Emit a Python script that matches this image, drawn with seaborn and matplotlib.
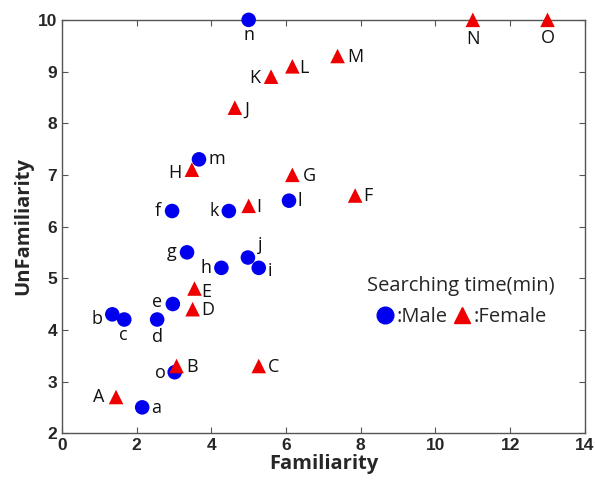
import matplotlib
matplotlib.use('Agg')
import matplotlib.pyplot as plt
import seaborn as sns
import pandas as pd
from matplotlib.lines import Line2D

# male participants (blue circles)
male_labels = ['a', 'b', 'c', 'd', 'e', 'f', 'g', 'h', 'i', 'j', 'k', 'l', 'm', 'n', 'o']
male_fam = [2.15, 1.35, 1.67, 2.55, 2.97, 2.95, 3.35, 4.27, 5.27, 4.98, 4.47, 6.08, 3.67, 5.0, 3.02]
male_unfam = [2.5, 4.3, 4.2, 4.2, 4.5, 6.3, 5.5, 5.2, 5.2, 5.4, 6.3, 6.5, 7.3, 10.0, 3.18]

# female participants (red triangles)
female_labels = ['A', 'B', 'C', 'D', 'E', 'F', 'G', 'H', 'I', 'J', 'K', 'L', 'M', 'N', 'O']
female_fam = [1.45, 3.07, 5.27, 3.5, 3.55, 7.85, 6.17, 3.48, 5.0, 4.63, 5.6, 6.17, 7.38, 11.0, 13.0]
female_unfam = [2.7, 3.3, 3.3, 4.4, 4.8, 6.6, 7.0, 7.1, 6.4, 8.3, 8.9, 9.1, 9.3, 10.0, 10.0]

df = pd.DataFrame({
    'Familiarity': male_fam + female_fam,
    'UnFamiliarity': male_unfam + female_unfam,
    'label': male_labels + female_labels,
    'sex': ['Male'] * len(male_labels) + ['Female'] * len(female_labels),
})

# label offsets in pixels (right, down)
offs = {
    'a': (14, 1), 'b': (-15, 5), 'c': (-1, 15), 'd': (0, 17), 'e': (-16, -2),
    'f': (-14, 0), 'g': (-15, 0), 'h': (-15, 0), 'i': (11, 3), 'j': (12, -13),
    'k': (-15, 0), 'l': (11, 0), 'm': (18, 0), 'n': (0, 15), 'o': (-14, 1),
    'A': (-17, 0), 'B': (15, 1), 'C': (15, 1), 'D': (15, 1), 'E': (12, 3),
    'F': (13, 0), 'G': (17, 1), 'H': (-17, 3), 'I': (10, 1), 'J': (12, 2),
    'K': (-16, 1), 'L': (12, 2), 'M': (18, 1), 'N': (0, 19), 'O': (0, 18),
}

sns.set_style('ticks')
plt.rcParams['font.family'] = ['Open Sans', 'DejaVu Sans']

fig = plt.figure(figsize=(5.95, 4.84), dpi=100)
ax = fig.add_axes([0.104, 0.105, 0.879, 0.854])

sns.scatterplot(data=df, x='Familiarity', y='UnFamiliarity', hue='sex', style='sex',
                markers={'Male': 'o', 'Female': '^'},
                palette={'Male': '#0000ee', 'Female': '#ee0000'},
                s=110, linewidth=0, legend=False, clip_on=False, zorder=3, ax=ax)

for _, r in df.iterrows():
    dx, dy = offs[r['label']]
    ax.annotate(r['label'], (r['Familiarity'], r['UnFamiliarity']),
                xytext=(dx, -dy), textcoords='offset pixels',
                ha='center', va='center', fontsize=13, color='#111111',
                annotation_clip=False, zorder=4)

ax.set_xlim(0, 14)
ax.set_ylim(2, 10)
ax.set_xticks(range(0, 15, 2))
ax.set_yticks(range(2, 11))
ax.tick_params(direction='in', top=True, right=True, length=4, width=0.8,
               color='#555555', labelsize=12.5)
for t in ax.get_xticklabels() + ax.get_yticklabels():
    t.set_fontfamily('Liberation Sans')
    t.set_fontweight('bold')
for s in ax.spines.values():
    s.set_color('#555555')
    s.set_linewidth(1)

ax.set_xlabel('Familiarity', fontsize=14.5, fontweight='bold', labelpad=1)
ax.set_ylabel('UnFamiliarity', fontsize=14.5, fontweight='bold', labelpad=3)

handles = [Line2D([], [], marker='o', color='#0000ee', ls='', ms=12),
           Line2D([], [], marker='^', color='#ee0000', ls='', ms=12)]
ax.legend(handles, [':Male', ':Female'], ncol=2, title='Searching time(min)',
          loc='upper center', bbox_to_anchor=(0.762, 0.415), frameon=False,
          handletextpad=0.0, columnspacing=0.2, handlelength=1.1,
          labelspacing=0.55, borderpad=0.2,
          prop={'size': 14.5}, title_fontsize=14.5)

fig.savefig('out.png', dpi=100)
